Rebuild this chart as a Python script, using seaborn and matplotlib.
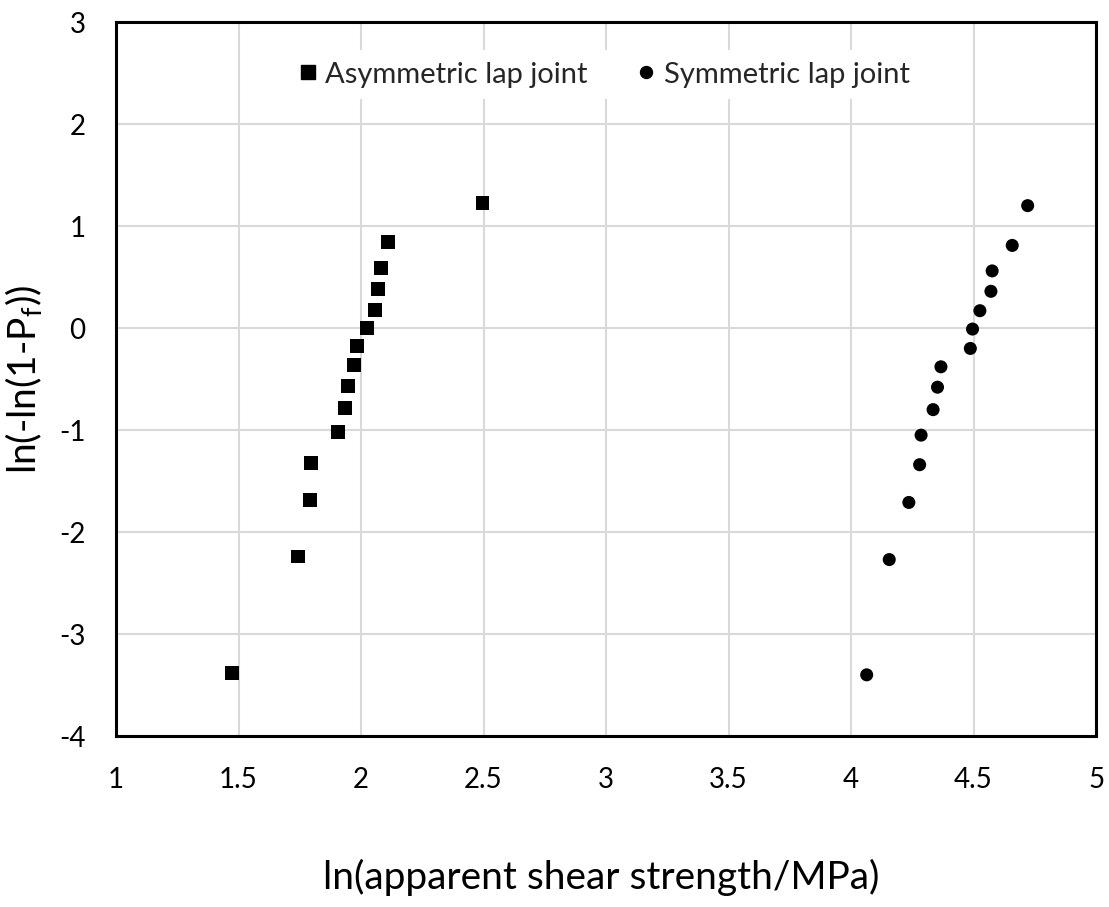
import matplotlib
matplotlib.use("Agg")
import matplotlib.pyplot as plt
from matplotlib.lines import Line2D
import seaborn as sns
import pandas as pd

asym_x = [1.473, 1.743, 1.792, 1.796, 1.906, 1.935, 1.947, 1.972, 1.984, 2.025, 2.057, 2.070, 2.082, 2.110, 2.496]
asym_y = [-3.38, -2.24, -1.69, -1.32, -1.02, -0.78, -0.57, -0.36, -0.18, 0.00, 0.18, 0.38, 0.59, 0.84, 1.23]
sym_x = [4.064, 4.156, 4.236, 4.280, 4.286, 4.335, 4.353, 4.367, 4.487, 4.496, 4.526, 4.571, 4.576, 4.658, 4.721]
sym_y = [-3.40, -2.27, -1.71, -1.34, -1.05, -0.80, -0.58, -0.38, -0.20, -0.01, 0.17, 0.36, 0.56, 0.81, 1.20]
series_names = ["Asymmetric lap joint", "Symmetric lap joint"]
x_ticks = [1, 1.5, 2, 2.5, 3, 3.5, 4, 4.5, 5]
x_tick_labels = ["1", "1.5", "2", "2.5", "3", "3.5", "4", "4.5", "5"]
y_ticks = [-4, -3, -2, -1, 0, 1, 2, 3]

sns.set_theme(style="white")
plt.rcParams['font.family'] = ['Lato', 'DejaVu Sans']

df = pd.DataFrame({
    "x": asym_x + sym_x,
    "y": asym_y + sym_y,
    "series": [series_names[0]] * len(asym_x) + [series_names[1]] * len(sym_x),
})

fig = plt.figure(figsize=(11.09, 9.07), dpi=100)
ax = fig.add_axes([0.1046, 0.1885, 0.8837, 0.7872])

sns.scatterplot(data=df, x="x", y="y", hue="series", style="series", size="series",
                palette={series_names[0]: "black", series_names[1]: "black"},
                markers={series_names[0]: "s", series_names[1]: "o"},
                sizes={series_names[0]: 100, series_names[1]: 88},
                linewidth=0, ax=ax, legend=False, zorder=3)

ax.set_xlim(1, 5)
ax.set_ylim(-4, 3)
ax.set_xticks(x_ticks)
ax.set_xticklabels(x_tick_labels)
ax.set_yticks(y_ticks)
ax.set_yticklabels([str(v) for v in y_ticks])
ax.grid(True, color="#d9d9d9", linewidth=1.5, zorder=0)
ax.set_axisbelow(True)
for sp in ax.spines.values():
    sp.set_color("black")
    sp.set_linewidth(2.2)
    sp.set_zorder(4)
ax.tick_params(axis="x", labelsize=20, pad=22, length=0, colors="black")
ax.tick_params(axis="y", labelsize=20, pad=22, length=0, colors="black")

ax.set_xlabel("ln(apparent shear strength/MPa)", fontsize=28, color="black")
ax.xaxis.set_label_coords(0.4954, -0.172)
ax.set_ylabel(r"ln(-ln(1-P$_\mathregular{f}$))", fontsize=28, color="black")
ax.yaxis.set_label_coords(-0.0725, 0.5)

handles = [Line2D([], [], marker="s", color="black", linestyle="none", markersize=10),
           Line2D([], [], marker="o", color="black", linestyle="none", markersize=8.6)]
ax.legend(handles, series_names, loc="center", bbox_to_anchor=(0.4954, 0.9265), ncol=2,
          fontsize=21, frameon=True, facecolor="white", edgecolor="none", fancybox=False,
          framealpha=1, handletextpad=0.1, columnspacing=1.5, handlelength=1.0,
          borderpad=0.4, borderaxespad=0)

fig.savefig("out.png", dpi=100, facecolor="white")
